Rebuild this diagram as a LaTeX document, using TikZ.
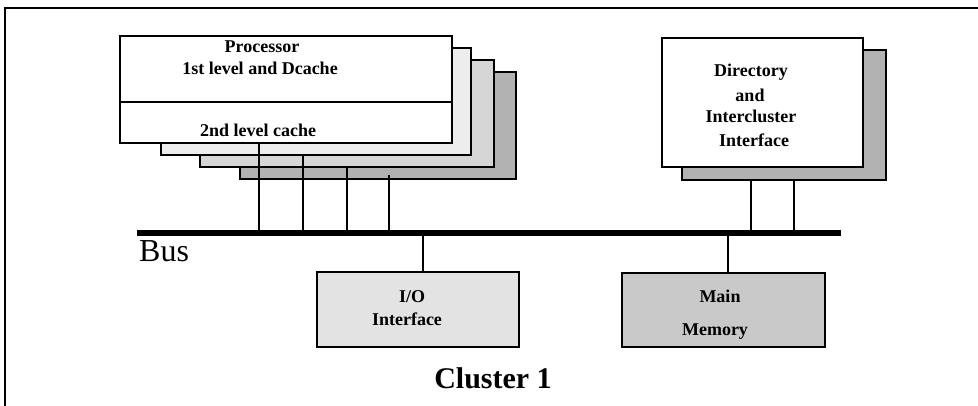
\documentclass[tikz,border=0pt]{standalone}
\usepackage{fontspec}
\setmainfont{Liberation Serif}
\begin{document}
\begin{tikzpicture}[x=1pt,y=-1pt,
  box/.style={draw=black,line width=2.4pt,inner sep=0pt,outer sep=0pt,anchor=north west},
  lbl/.style={font=\fontsize{18}{20}\selectfont\bfseries,inner sep=0pt,anchor=base},
  wire/.style={line width=2pt},
]
\useasboundingbox (0,0) rectangle (978,406);
% frame
\draw[line width=2.4pt] (5,406) -- (5,8) -- (978,8);

% stacked processor boards, back to front
\node[box,fill=gray!60,minimum width=276pt,minimum height=107pt] (p4) at (240,72) {};
\node[box,fill=gray!32,minimum width=294pt,minimum height=107pt] (p3) at (200,60) {};
\node[box,fill=gray!14,minimum width=310pt,minimum height=107pt] (p2) at (161,48) {};
\node[box,fill=white,minimum width=332pt,minimum height=107pt] (p1) at (120,36) {};
\draw[line width=2pt] (120,102) -- (452,102);
\node[lbl] (t1) at (262,53) {Processor};
\node[lbl] (t2) at (260,75) {1st level and Dcache};
\node[lbl] (t3) at (258,137) {2nd level cache};

% directory board with shadow
\node[box,fill=gray!60,minimum width=204pt,minimum height=130pt] (ds) at (682,50) {};
\node[box,fill=white,minimum width=201pt,minimum height=129pt] (dir) at (662,38) {};
\node[lbl] at (751,77) {Directory};
\node[lbl] at (750,102) {and};
\node[lbl] at (751,123) {Intercluster};
\node[lbl] at (754,147) {Interface};

% bus
\node[fill=black,inner sep=0pt,outer sep=0pt,minimum width=704pt,minimum height=6pt,anchor=west] (bus) at (137,233) {};
\node[font=\fontsize{32}{34}\selectfont,inner sep=0pt,anchor=base west] (buslbl) at (139,262) {Bus};

% I/O and memory
\node[box,fill=gray!22,minimum width=202pt,minimum height=75pt] (io) at (317,272) {};
\node[lbl] at (412,303) {I/O};
\node[lbl] at (407,326) {Interface};
\node[box,fill=gray!42,minimum width=203pt,minimum height=74pt] (mem) at (622,273) {};
\node[lbl] at (720,303) {Main};
\node[lbl] at (715,336) {Memory};

% taps onto the bus
\coordinate (c1) at (259,233);
\coordinate (c2) at (303,233);
\coordinate (c3) at (347,233);
\coordinate (c4) at (389,233);
\coordinate (c5) at (423,233);
\coordinate (c6) at (728,233);
\coordinate (c7) at (751,233);
\coordinate (c8) at (794,233);
\draw[wire] (p1.south -| c1) -- (bus.north -| c1);
\draw[wire] (p2.south -| c2) -- (bus.north -| c2);
\draw[wire] (p3.south -| c3) -- (bus.north -| c3);
\draw[wire] ([yshift=4pt]p4.south -| c4) -- (bus.north -| c4);
\draw[wire] (bus.south -| c5) -- (io.north -| c5);
\draw[wire] (bus.south -| c6) -- (mem.north -| c6);
\draw[wire] (ds.south -| c7) -- (bus.north -| c7);
\draw[wire] (ds.south -| c8) -- (bus.north -| c8);

\node[font=\fontsize{30}{32}\selectfont\bfseries,inner sep=0pt,anchor=base] (cl) at (493,388) {Cluster 1};
\end{tikzpicture}
\end{document}
